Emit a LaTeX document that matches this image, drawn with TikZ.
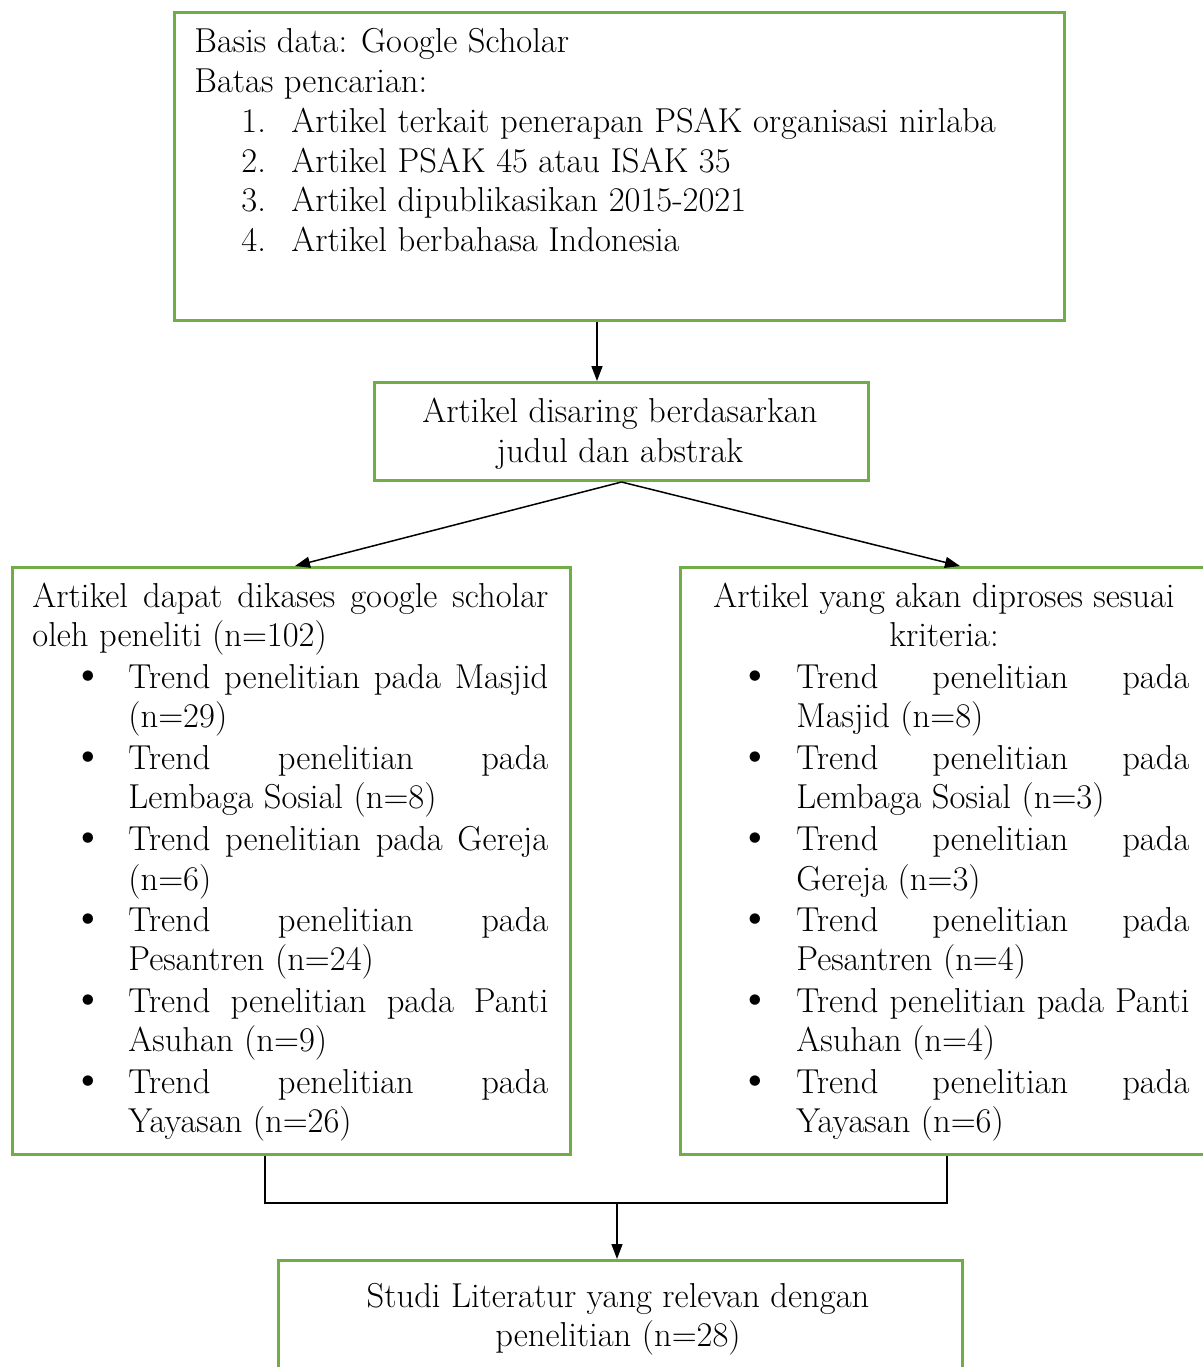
\documentclass[tikz,border=0pt]{standalone}
\usetikzlibrary{arrows.meta}
\definecolor{boxgreen}{RGB}{112,173,71}
\newcommand\jw[2]{\makebox[#1][s]{#2}}
\tikzset{
  box/.style={draw=boxgreen, line width=1.5pt, inner sep=0pt, anchor=north west},
  txt/.style={inner sep=0pt, anchor=base west},
  ctxt/.style={inner sep=0pt, anchor=base},
  conn/.style={draw=black, line width=0.75pt},
  arr/.style={conn, -{Triangle[length=7.5pt,width=5.5pt]}}
}
\begin{document}
\begin{tikzpicture}[x=0.5pt,y=-0.5pt,font=\fontsize{17.3}{20}\selectfont]
\useasboundingbox (0,0) rectangle (1203,1367);
\clip (0,0) rectangle (1203,1367);
% boxes
\node[box, minimum width=445pt, minimum height=154pt] (b1) at (173,11) {};
\node[box, minimum width=247pt, minimum height=49pt] (b2) at (373,381) {};
\node[box, minimum width=279pt, minimum height=293.5pt] (b3) at (11,566) {};
\node[box, minimum width=280pt, minimum height=293.5pt] (b4) at (679,566) {};
\node[box, minimum width=342pt, minimum height=70pt] (b5) at (277,1259) {};
% box 1 text
\node[txt] (t11) at (194,52) {Basis data: Google Scholar};
\node[txt] (t12) at (194,92) {Batas pencarian:};
\node[txt] (n1) at (241,132) {1.};
\node[txt] (t13) at (291,132) {Artikel terkait penerapan PSAK organisasi nirlaba};
\node[txt] (n2) at (241,172) {2.};
\node[txt] (t14) at (291,172) {Artikel PSAK 45 atau ISAK 35};
\node[txt] (n3) at (241,211) {3.};
\node[txt] (t15) at (291,211) {Artikel dipublikasikan 2015-2021};
\node[txt] (n4) at (241,251) {4.};
\node[txt] (t16) at (291,251) {Artikel berbahasa Indonesia};
% box 2 text
\node[ctxt] (t21) at (620,422) {Artikel disaring berdasarkan};
\node[ctxt] (t22) at (620,462) {judul dan abstrak};
% box 3 text
\node[txt] (t31) at (32,607) {\jw{258pt}{Artikel dapat dikases google scholar}};
\node[txt] (t32) at (32,646) {oleh peneliti (n=102)};
\foreach \y/\n in {688/a,769/b,850/c,931/d,1012/e,1093/f}{
  \node[ctxt] (bl\n) at (88,\y) {\scalebox{1.35}{\textbullet}};
  \node[ctxt] (br\n) at (755,\y) {\scalebox{1.35}{\textbullet}};
}
\node[txt] (l1) at (128,688) {\jw{210pt}{Trend penelitian pada Masjid}};
\node[txt] (l2) at (128,727) {(n=29)};
\node[txt] (l3) at (128,769) {\jw{210pt}{Trend penelitian pada}};
\node[txt] (l4) at (128,808) {Lembaga Sosial (n=8)};
\node[txt] (l5) at (128,850) {\jw{210pt}{Trend penelitian pada Gereja}};
\node[txt] (l6) at (128,890) {(n=6)};
\node[txt] (l7) at (128,931) {\jw{210pt}{Trend penelitian pada}};
\node[txt] (l8) at (128,970) {Pesantren (n=24)};
\node[txt] (l9) at (128,1012) {\jw{210pt}{Trend penelitian pada Panti}};
\node[txt] (l10) at (128,1051) {Asuhan (n=9)};
\node[txt] (l11) at (128,1093) {\jw{210pt}{Trend penelitian pada}};
\node[txt] (l12) at (128,1132) {Yayasan (n=26)};
% box 4 text
\node[ctxt] (t41) at (944,607) {Artikel yang akan diproses sesuai};
\node[ctxt] (t42) at (944,646) {kriteria:};
\node[txt] (r1) at (796,688) {\jw{196.5pt}{Trend penelitian pada}};
\node[txt] (r2) at (796,727) {Masjid (n=8)};
\node[txt] (r3) at (796,769) {\jw{196.5pt}{Trend penelitian pada}};
\node[txt] (r4) at (796,808) {Lembaga Sosial (n=3)};
\node[txt] (r5) at (796,850) {\jw{196.5pt}{Trend penelitian pada}};
\node[txt] (r6) at (796,890) {Gereja (n=3)};
\node[txt] (r7) at (796,931) {\jw{196.5pt}{Trend penelitian pada}};
\node[txt] (r8) at (796,970) {Pesantren (n=4)};
\node[txt] (r9) at (796,1012) {\jw{196.5pt}{Trend penelitian pada Panti}};
\node[txt] (r10) at (796,1051) {Asuhan (n=4)};
\node[txt] (r11) at (796,1093) {\jw{196.5pt}{Trend penelitian pada}};
\node[txt] (r12) at (796,1132) {Yayasan (n=6)};
% box 5 text
\node[ctxt] (t51) at (618,1307) {Studi Literatur yang relevan dengan};
\node[ctxt] (t52) at (618,1346) {penelitian (n=28)};
% connectors
\coordinate (c1) at (597,0);
\draw[arr] (b1.south -| c1) -- (b2.north -| c1);
\coordinate (c3) at (295,0);
\coordinate (c4) at (960,0);
\draw[arr] (b2.south) -- (b3.north -| c3);
\draw[arr] (b2.south) -- (b4.north -| c4);
\coordinate (jl) at (265,1203);
\coordinate (jr) at (947,1203);
\coordinate (jm) at (617,1203);
\draw[conn] (b3.south -| jl) -- (jl) -- (jr) -- (b4.south -| jr);
\draw[arr] (jm) -- (b5.north -| jm);
\end{tikzpicture}
\end{document}
